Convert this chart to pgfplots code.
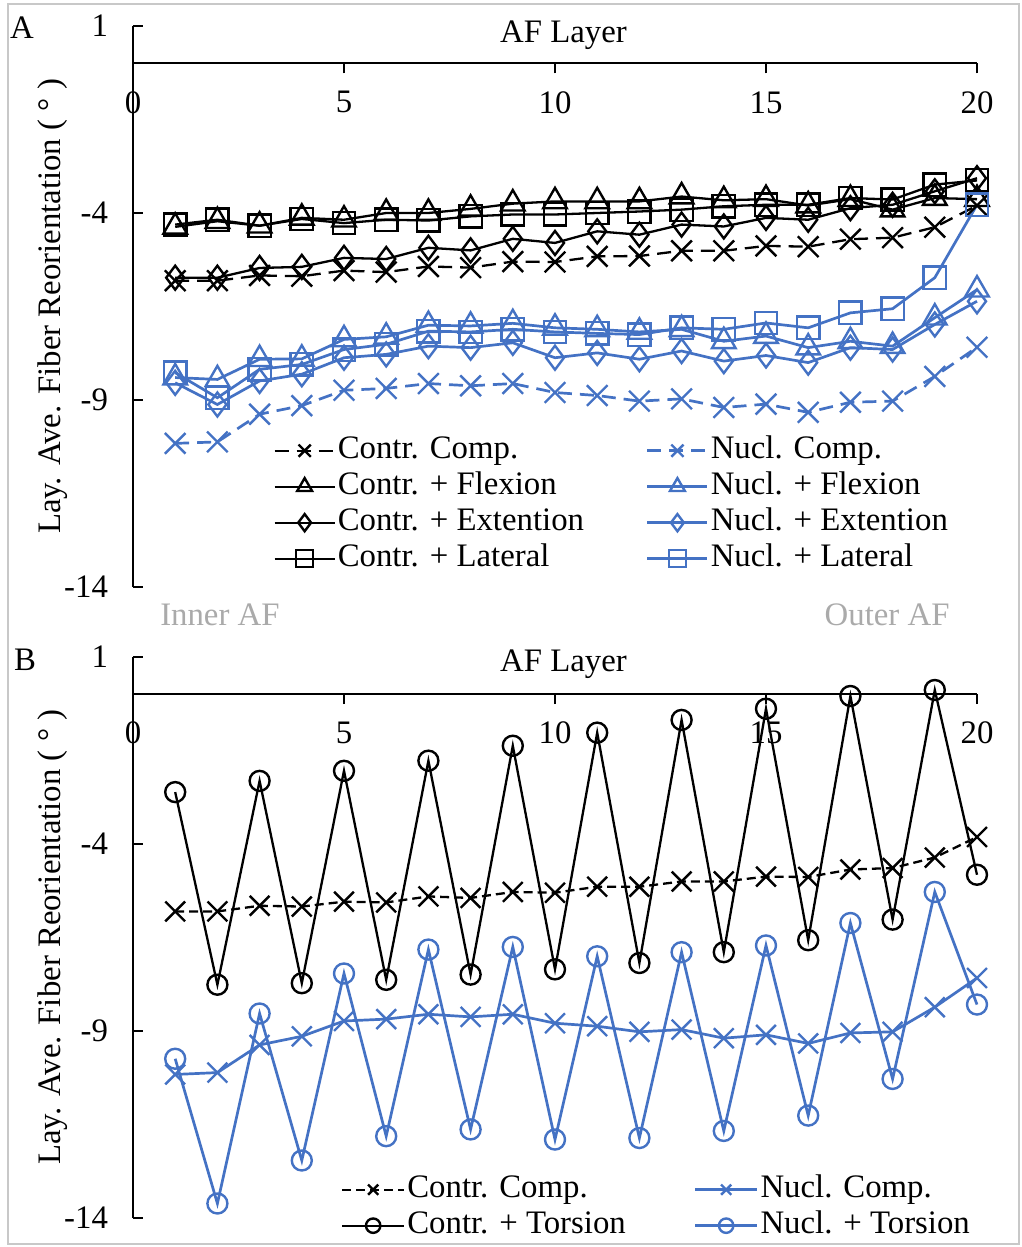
\documentclass[border=0pt]{standalone}
\usepackage{fontspec}
\setmainfont{Liberation Serif}
\usepackage{pgfplots}
\usepackage{pgfplotstable}
\pgfplotsset{compat=1.18}
\definecolor{nblue}{RGB}{68,114,196}
\definecolor{lgray}{RGB}{170,170,170}
\definecolor{framegray}{RGB}{200,200,200}
\newcommand\fs{\fontsize{16.4}{19.7}\selectfont}

\pgfplotstableread{
x cc nc cf nf ce ne cl nl
1 -5.81 -10.16 -4.37 -8.40 -5.73 -8.54 -4.31 -8.27
2 -5.81 -10.12 -4.22 -8.45 -5.73 -9.12 -4.18 -8.94
3 -5.67 -9.38 -4.34 -7.91 -5.47 -8.49 -4.34 -8.18
4 -5.69 -9.15 -4.13 -7.90 -5.44 -8.31 -4.16 -8.05
5 -5.54 -8.74 -4.18 -7.38 -5.20 -7.87 -4.27 -7.65
6 -5.58 -8.69 -4.00 -7.31 -5.23 -7.78 -4.18 -7.51
7 -5.43 -8.56 -4.00 -7.00 -4.93 -7.56 -4.20 -7.16
8 -5.46 -8.62 -3.89 -7.02 -5.00 -7.60 -4.09 -7.18
9 -5.30 -8.56 -3.75 -6.95 -4.69 -7.47 -4.04 -7.11
10 -5.31 -8.80 -3.69 -7.07 -4.80 -7.87 -4.04 -7.18
11 -5.16 -8.88 -3.69 -7.11 -4.49 -7.74 -4.00 -7.22
12 -5.15 -9.03 -3.69 -7.18 -4.58 -7.91 -3.96 -7.25
13 -5.01 -8.97 -3.56 -7.11 -4.31 -7.69 -3.91 -7.07
14 -5.01 -9.20 -3.66 -7.43 -4.36 -7.96 -3.82 -7.11
15 -4.88 -9.11 -3.63 -7.29 -4.13 -7.81 -3.78 -6.94
16 -4.90 -9.33 -3.80 -7.60 -4.18 -8.00 -3.78 -7.07
17 -4.70 -9.06 -3.63 -7.43 -3.87 -7.60 -3.60 -6.67
18 -4.66 -9.03 -3.91 -7.56 -3.78 -7.65 -3.64 -6.56
19 -4.38 -8.37 -3.60 -6.80 -3.42 -6.98 -3.24 -5.73
20 -3.80 -7.59 -3.63 -6.05 -3.07 -6.36 -3.13 -3.78
}\dataA

\pgfplotstableread{
x cc nc ct nt
1 -5.81 -10.17 -2.62 -9.75
2 -5.81 -10.12 -7.77 -13.62
3 -5.66 -9.38 -2.32 -8.54
4 -5.68 -9.15 -7.73 -12.47
5 -5.55 -8.74 -2.05 -7.47
6 -5.57 -8.69 -7.64 -11.82
7 -5.41 -8.56 -1.78 -6.83
8 -5.45 -8.63 -7.50 -11.64
9 -5.29 -8.56 -1.38 -6.76
10 -5.31 -8.80 -7.36 -11.91
11 -5.15 -8.88 -1.03 -7.01
12 -5.15 -9.03 -7.19 -11.87
13 -5.01 -8.97 -0.69 -6.90
14 -5.01 -9.20 -6.90 -11.68
15 -4.88 -9.11 -0.39 -6.72
16 -4.89 -9.34 -6.58 -11.27
17 -4.69 -9.06 -0.05 -6.12
18 -4.65 -9.03 -6.03 -10.29
19 -4.37 -8.37 0.11 -5.29
20 -3.82 -7.59 -4.83 -8.30
}\dataB

\pgfplotsset{
  panel/.style={
    scale only axis, width=422pt, height=280.5pt,
    xmin=0, xmax=20, ymin=-14, ymax=1,
    axis x line*=middle, axis y line*=left,
    hide obscured x ticks=false,
    xtick={0,5,10,15,20}, xticklabels={0,5,10,15,20},
    ytick={-14,-9,-4,1}, yticklabels={-14,-9,-4,1},
    tick label style={font=\fs},
    xticklabel style={anchor=north, yshift=-5.5pt},
    yticklabel style={anchor=east, xshift=-9pt},
    major tick length=5pt,
    tick style={black, line width=1pt},
    axis line style={black, line width=1pt},
    ytick align=inside, xtick align=outside,
    clip=false,
    legend columns=2,
    legend cell align=left,
  },
  cline/.style={black, line width=1.15pt, mark options={solid, line width=1.2pt}},
  nline/.style={nblue, line width=1.35pt, mark options={solid, line width=1.2pt}},
}

\begin{document}
\begin{tikzpicture}
\useasboundingbox (0pt,0pt) rectangle (511pt,-623.5pt);
\draw[framegray, line width=0.6pt] (4pt,-2pt) rectangle (509.5pt,-622pt);
\node[font=\fs, anchor=center] at (11pt,-14pt) {A};
\node[font=\fs, anchor=center] at (12.5pt,-330pt) {B};

% Panel A
\begin{axis}[panel, at={(66.5pt,-13pt)}, anchor=north west,
  legend image code/.code={\draw[mark repeat=2,mark phase=2,#1] plot coordinates {(0pt,0pt) (15pt,0pt) (30pt,0pt)};},
  legend image post style={mark size=4.3pt},
  legend style={draw=none, fill=none, font=\fs, at={(rel axis cs:0.166,0.274)}, anchor=north west,
    inner sep=0pt, row sep=1pt,
    nodes={inner sep=1pt, text height=11.5pt, text depth=3.5pt},
    /tikz/every even column/.append style={column sep=30pt}},
]
\addplot[cline, dash pattern=on 7pt off 4pt, mark=x, mark size=7.3pt] table[x=x,y=cc]{\dataA};
\addlegendentry{Contr. Comp.}
\addplot[nline, dash pattern=on 7pt off 4pt, mark=x, mark size=7.3pt] table[x=x,y=nc]{\dataA};
\addlegendentry{Nucl. Comp.}
\addplot[cline, mark=triangle, mark size=6.8pt] table[x=x,y=cf]{\dataA};
\addlegendentry{Contr. + Flexion}
\addplot[nline, mark=triangle, mark size=6.8pt] table[x=x,y=nf]{\dataA};
\addlegendentry{Nucl. + Flexion}
\addplot[cline, mark=diamond, mark size=6pt] table[x=x,y=ce]{\dataA};
\addlegendentry{Contr. + Extention}
\addplot[nline, mark=diamond, mark size=6pt] table[x=x,y=ne]{\dataA};
\addlegendentry{Nucl. + Extention}
\addplot[cline, mark=square, mark size=5.6pt] table[x=x,y=cl]{\dataA};
\addlegendentry{Contr. + Lateral}
\addplot[nline, mark=square, mark size=5.6pt] table[x=x,y=nl]{\dataA};
\addlegendentry{Nucl. + Lateral}
\node[font=\fs, anchor=center] at (axis cs:10.2,0.75) {AF Layer};
\node[font=\fs, text=lgray, anchor=center] at (axis cs:2.06,-14.75) {Inner AF};
\node[font=\fs, text=lgray, anchor=center] at (axis cs:17.87,-14.75) {Outer AF};
\node[font=\fs, rotate=90, anchor=center] at ([xshift=-40pt]rel axis cs:0,0.5) {Lay. Ave. Fiber Reorientation ( ° )};
\end{axis}

% Panel B
\begin{axis}[panel, at={(66.5pt,-328.35pt)}, anchor=north west,
  legend image code/.code={\draw[mark repeat=2,mark phase=2,#1] plot coordinates {(0pt,0pt) (15.5pt,0pt) (31pt,0pt)};},
  legend image post style={mark size=3.6pt},
  legend style={draw=none, fill=none, font=\fs, at={(rel axis cs:0.246,0.081)}, anchor=north west,
    inner sep=0pt, row sep=1pt,
    nodes={inner sep=1pt, text height=11.5pt, text depth=3.5pt},
    /tikz/every even column/.append style={column sep=33pt}},
]
\addplot[cline, dash pattern=on 4.5pt off 2.5pt, mark=x, mark size=7pt] table[x=x,y=cc]{\dataB};
\addlegendentry{Contr. Comp.}
\addplot[nline, mark=x, mark size=7pt] table[x=x,y=nc]{\dataB};
\addlegendentry{Nucl. Comp.}
\addplot[cline, mark=o, mark size=5pt] table[x=x,y=ct]{\dataB};
\addlegendentry{Contr. + Torsion}
\addplot[nline, mark=o, mark size=5pt] table[x=x,y=nt]{\dataB};
\addlegendentry{Nucl. + Torsion}
\node[font=\fs, anchor=center] at (axis cs:10.2,0.8) {AF Layer};
\node[font=\fs, rotate=90, anchor=center] at ([xshift=-40pt]rel axis cs:0,0.5) {Lay. Ave. Fiber Reorientation ( ° )};
\end{axis}
\end{tikzpicture}
\end{document}
